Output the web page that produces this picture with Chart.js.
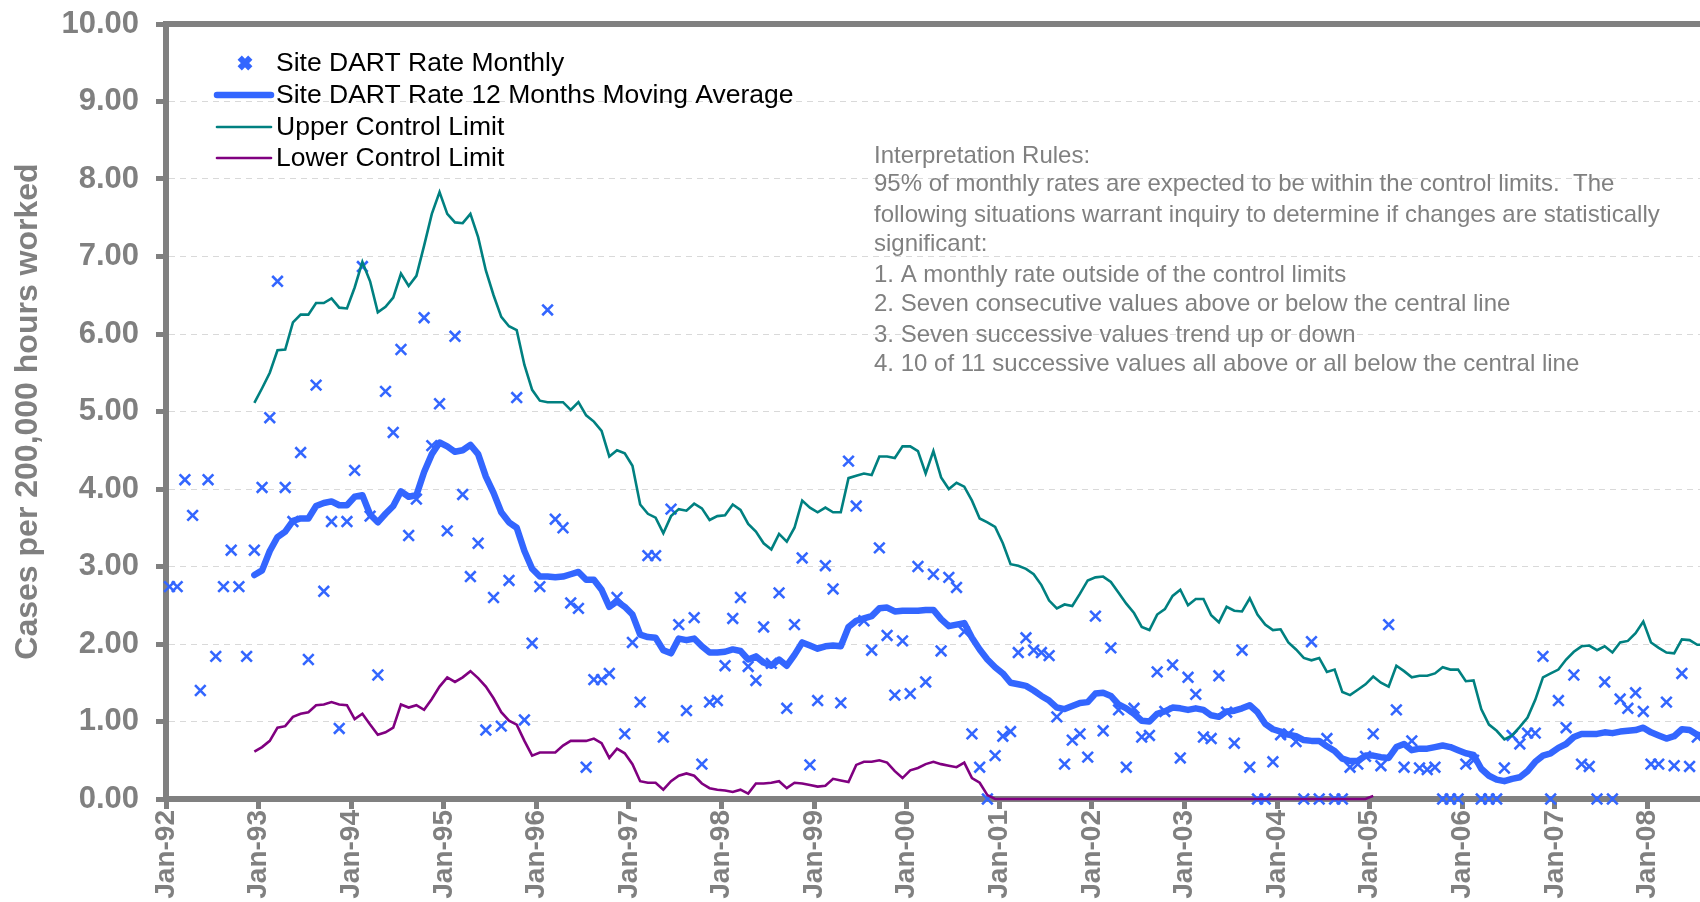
<!DOCTYPE html>
<html>
<head>
<meta charset="utf-8">
<script src="https://cdn.jsdelivr.net/npm/chart.js@4.4.0/dist/chart.umd.min.js"></script>
<style>
  html, body { margin: 0; padding: 0; background: #ffffff; overflow: hidden; }
  #wrap { width: 1700px; height: 902px; position: relative; }
</style>
</head>
<body>
<div id="wrap"><canvas id="chart" width="1700" height="902"></canvas></div>
<script>
// ---------------- DATA ----------------
const tickLabels = ['Jan-92','Jan-93','Jan-94','Jan-95','Jan-96','Jan-97','Jan-98','Jan-99',
  'Jan-00','Jan-01','Jan-02','Jan-03','Jan-04','Jan-05','Jan-06','Jan-07','Jan-08'];

// Monthly DART rate, one value per month starting Jan-92
const monthlyRate = [
  2.74, 2.74, 4.12, 3.66, 1.40, 4.12, 1.84, 2.74, 3.21, 2.74, 1.84, 3.21,   // 1992
  4.02, 4.92, 6.68, 4.02, 3.58, 4.47, 1.80, 5.34, 2.68, 3.58, 0.91, 3.58,   // 1993
  4.24, 6.87, 3.65, 1.60, 5.26, 4.73, 5.80, 3.40, 3.87, 6.21, 4.56, 5.10,   // 1994
  3.46, 5.97, 3.93, 2.87, 3.30, 0.89, 2.60, 0.94, 2.82, 5.18, 1.02, 2.01,   // 1995
  2.74, 6.31, 3.61, 3.50, 2.53, 2.46, 0.41, 1.54, 1.54, 1.62, 2.60, 0.84,   // 1996
  2.02, 1.25, 3.14, 3.14, 0.80, 3.74, 2.25, 1.14, 2.34, 0.45, 1.25, 1.27,   // 1997
  1.72, 2.33, 2.60, 1.71, 1.53, 2.22, 1.75, 2.66, 1.17, 2.25, 3.11, 0.44,   // 1998
  1.27, 3.01, 2.71, 1.24, 4.36, 3.78, 2.30, 1.92, 3.24, 2.11, 1.34, 2.04,   // 1999
  1.36, 3.00, 1.51, 2.90, 1.91, 2.86, 2.73, 2.16, 0.84, 0.41, 0.00, 0.56,   // 2000
  0.81, 0.87, 1.89, 2.08, 1.92, 1.89, 1.85, 1.06, 0.45, 0.76, 0.84, 0.54,   // 2001
  2.36, 0.88, 1.95, 1.15, 0.41, 1.17, 0.80, 0.82, 1.64, 1.13, 1.73, 0.53,   // 2002
  1.57, 1.35, 0.80, 0.78, 1.59, 1.12, 0.72, 1.92, 0.41, 0.00, 0.00, 0.48,   // 2003
  0.83, 0.84, 0.74, 0.00, 2.03, 0.00, 0.78, 0.00, 0.00, 0.41, 0.45, 0.55,   // 2004
  0.84, 0.43, 2.25, 1.15, 0.41, 0.75, 0.40, 0.38, 0.41, 0.00, 0.00, 0.00,   // 2005
  0.45, 0.50, 0.00, 0.00, 0.00, 0.40, 0.82, 0.71, 0.85, 0.85, 1.84, 0.00,   // 2006
  1.27, 0.92, 1.60, 0.45, 0.42, 0.00, 1.51, 0.00, 1.29, 1.17, 1.37, 1.13,   // 2007
  0.45, 0.45, 1.25, 0.43, 1.62, 0.42, 0.80                                  // 2008
];

// 12-month moving average and control limits start at Dec-92 (month index 11)
const limitsStartMonth = 11;

const movingAverage = [
  2.89,
  2.95, 3.20, 3.38, 3.45, 3.59, 3.62, 3.62, 3.78, 3.82, 3.84, 3.79, 3.79,
  3.90, 3.92, 3.67, 3.57, 3.68, 3.78, 3.97, 3.90, 3.92, 4.22, 4.45, 4.60,
  4.55, 4.48, 4.50, 4.57, 4.45, 4.16, 3.95, 3.70, 3.57, 3.50, 3.20, 2.97,
  2.87, 2.87, 2.86, 2.87, 2.90, 2.93, 2.83, 2.83, 2.70, 2.48, 2.55, 2.48,
  2.38, 2.12, 2.09, 2.08, 1.92, 1.88, 2.07, 2.05, 2.07, 1.97, 1.89, 1.89,
  1.90, 1.93, 1.91, 1.80, 1.84, 1.76, 1.72, 1.80, 1.72, 1.86, 2.02, 1.98,
  1.94, 1.97, 1.98, 1.97, 2.22, 2.30, 2.33, 2.36, 2.46, 2.47, 2.42, 2.43,
  2.43, 2.43, 2.44, 2.44, 2.32, 2.23, 2.25, 2.27, 2.08, 1.93, 1.80, 1.70,
  1.62, 1.50, 1.48, 1.46, 1.40, 1.33, 1.27, 1.18, 1.16, 1.20, 1.24, 1.25,
  1.36, 1.37, 1.33, 1.22, 1.17, 1.10, 1.01, 1.00, 1.10, 1.13, 1.18, 1.17,
  1.15, 1.17, 1.15, 1.08, 1.06, 1.13, 1.14, 1.17, 1.21, 1.12, 0.97, 0.90,
  0.87, 0.83, 0.81, 0.76, 0.75, 0.75, 0.68, 0.62, 0.52, 0.49, 0.49, 0.56,
  0.56, 0.54, 0.53, 0.67, 0.71, 0.63, 0.65, 0.65, 0.67, 0.69, 0.67, 0.63,
  0.59, 0.57, 0.39, 0.30, 0.25, 0.23, 0.26, 0.28, 0.36, 0.48, 0.56, 0.59,
  0.66, 0.71, 0.80, 0.84, 0.84, 0.84, 0.86, 0.85, 0.87, 0.88, 0.89, 0.92,
  0.86, 0.82, 0.78, 0.81, 0.90, 0.89, 0.83, 0.80
];

const upperLimit = [
  5.11,
  5.30, 5.50, 5.79, 5.80, 6.15, 6.25, 6.25, 6.40, 6.40, 6.46, 6.34, 6.33,
  6.60, 6.93, 6.68, 6.28, 6.35, 6.47, 6.78, 6.62, 6.75, 7.14, 7.55, 7.83,
  7.55, 7.44, 7.43, 7.55, 7.25, 6.82, 6.50, 6.22, 6.10, 6.05, 5.60, 5.28,
  5.14, 5.12, 5.12, 5.12, 5.02, 5.12, 4.95, 4.87, 4.75, 4.42, 4.50, 4.46,
  4.30, 3.80, 3.68, 3.63, 3.43, 3.65, 3.74, 3.72, 3.81, 3.75, 3.60, 3.65,
  3.66, 3.80, 3.73, 3.55, 3.45, 3.30, 3.22, 3.42, 3.32, 3.50, 3.85, 3.76,
  3.70, 3.76, 3.70, 3.70, 4.14, 4.17, 4.20, 4.18, 4.42, 4.42, 4.40, 4.55,
  4.55, 4.49, 4.20, 4.49, 4.15, 4.00, 4.08, 4.03, 3.85, 3.62, 3.57, 3.51,
  3.30, 3.03, 3.01, 2.97, 2.90, 2.76, 2.56, 2.46, 2.51, 2.49, 2.65, 2.82,
  2.86, 2.87, 2.80, 2.66, 2.52, 2.40, 2.22, 2.18, 2.38, 2.45, 2.62, 2.70,
  2.50, 2.58, 2.58, 2.37, 2.28, 2.48, 2.43, 2.42, 2.59, 2.38, 2.25, 2.18,
  2.19, 2.02, 1.93, 1.82, 1.79, 1.82, 1.64, 1.67, 1.38, 1.34, 1.41, 1.48,
  1.58, 1.50, 1.45, 1.72, 1.65, 1.57, 1.59, 1.59, 1.62, 1.70, 1.67, 1.67,
  1.52, 1.53, 1.16, 0.96, 0.88, 0.77, 0.82, 0.93, 1.05, 1.28, 1.57, 1.62,
  1.67, 1.80, 1.90, 1.97, 1.98, 1.92, 1.97, 1.89, 2.02, 2.04, 2.14, 2.29,
  2.02, 1.95, 1.89, 1.88, 2.06, 2.05, 1.99, 1.99
];

const lowerLimit = [
  0.61,
  0.67, 0.75, 0.92, 0.94, 1.06, 1.10, 1.12, 1.21, 1.22, 1.25, 1.22, 1.21,
  1.03, 1.10, 0.96, 0.83, 0.86, 0.92, 1.22, 1.18, 1.21, 1.15, 1.29, 1.45,
  1.57, 1.51, 1.57, 1.65, 1.56, 1.45, 1.30, 1.12, 1.01, 0.96, 0.75, 0.56,
  0.60, 0.60, 0.60, 0.69, 0.75, 0.75, 0.75, 0.78, 0.72, 0.53, 0.65, 0.59,
  0.45, 0.23, 0.21, 0.21, 0.12, 0.23, 0.30, 0.33, 0.30, 0.20, 0.14, 0.12,
  0.11, 0.09, 0.12, 0.07, 0.20, 0.20, 0.21, 0.23, 0.14, 0.21, 0.20, 0.18,
  0.16, 0.17, 0.26, 0.24, 0.22, 0.44, 0.48, 0.48, 0.50, 0.47, 0.36, 0.27,
  0.37, 0.40, 0.45, 0.48, 0.45, 0.43, 0.41, 0.47, 0.27, 0.21, 0.05, 0.00,
  0, 0, 0, 0, 0, 0, 0, 0, 0, 0, 0, 0,
  0, 0, 0, 0, 0, 0, 0, 0, 0, 0, 0, 0,
  0, 0, 0, 0, 0, 0, 0, 0, 0, 0, 0, 0,
  0, 0, 0, 0, 0, 0, 0, 0, 0, 0, 0, 0,
  0.04
];

const seriesLabels = [
  'Site DART Rate Monthly',
  'Site DART Rate 12 Months Moving Average',
  'Upper Control Limit',
  'Lower Control Limit'
];

const interpretationLines = [
  'Interpretation Rules:',
  '95% of monthly rates are expected to be within the control limits.  The',
  'following situations warrant inquiry to determine if changes are statistically',
  'significant:',
  '1. A monthly rate outside of the control limits',
  '2. Seven consecutive values above or below the central line',
  '3. Seven successive values trend up or down',
  '4. 10 of 11 successive values all above or all below the central line'
];

const yAxisTitle = 'Cases per 200,000 hours worked';

// ---------------- STYLE ----------------
const FONT = "'Liberation Sans', Arial, Helvetica, sans-serif";
const GREY = '#808080';
const BLUE = '#3366ff';
const TEAL = '#008080';
const PURPLE = '#800080';
const MID_MONTH = 0.45;          // observations are dated mid-month
const X_MAX = 198.8;              // visible range in months since Jan-92

function toPoints(values, start) {
  return values.map((v, k) => ({ x: start + k + MID_MONTH, y: v }));
}

const overlayPlugin = {
  id: 'overlay',
  afterDraw(chart) {
    const { ctx, chartArea } = chart;
    ctx.save();
    // top frame line of the plot area
    ctx.strokeStyle = GREY;
    ctx.lineWidth = 6;
    ctx.beginPath();
    ctx.moveTo(chartArea.left - 3, chartArea.top);
    ctx.lineTo(chartArea.right, chartArea.top);
    ctx.stroke();

    // legend (inside plot area, top-left)
    const ds = chart.data.datasets;
    const rowsY = [63, 95, 127, 158];
    const lineX0 = 217, lineX1 = 271, textX = 276;
    ctx.font = '26.5px ' + FONT;
    ctx.textBaseline = 'middle';
    ctx.textAlign = 'left';
    ds.forEach((d, k) => {
      const y = rowsY[k];
      if (d.showLine === false) {
        ctx.strokeStyle = d.borderColor;
        Chart.helpers.drawPoint(ctx, { pointStyle: d.pointStyle, radius: d.pointRadius, borderWidth: d.borderWidth, rotation: 0 }, 245, y);
      } else {
        ctx.strokeStyle = d.borderColor;
        ctx.lineWidth = d.borderWidth;
        ctx.lineCap = 'round';
        ctx.beginPath();
        ctx.moveTo(lineX0, y);
        ctx.lineTo(lineX1, y);
        ctx.stroke();
      }
      ctx.fillStyle = '#000000';
      ctx.fillText(d.label, textX, y + 1);
    });

    // interpretation rules text
    const textY = [156, 184, 215, 244, 275, 304, 335, 364];
    ctx.font = '24px ' + FONT;
    ctx.fillStyle = GREY;
    interpretationLines.forEach((t, k) => ctx.fillText(t, 874, textY[k]));
    ctx.restore();
  }
};

new Chart(document.getElementById('chart'), {
  type: 'line',
  data: {
    datasets: [
      {
        label: seriesLabels[0],
        data: toPoints(monthlyRate, 0),
        showLine: false,
        pointStyle: 'crossRot',
        pointRadius: 7.5,
        pointHoverRadius: 7.5,
        borderWidth: 2.6,
        borderColor: BLUE,
        backgroundColor: BLUE,
        clip: false,
        order: 3
      },
      {
        label: seriesLabels[1],
        data: toPoints(movingAverage, limitsStartMonth),
        borderColor: BLUE,
        borderWidth: 6.5,
        pointRadius: 0,
        tension: 0,
        borderJoinStyle: 'round',
        borderCapStyle: 'round',
        clip: false,
        order: 0
      },
      {
        label: seriesLabels[2],
        data: toPoints(upperLimit, limitsStartMonth),
        borderColor: TEAL,
        borderWidth: 2.6,
        pointRadius: 0,
        tension: 0,
        clip: false,
        order: 1
      },
      {
        label: seriesLabels[3],
        data: toPoints(lowerLimit, limitsStartMonth),
        borderColor: PURPLE,
        borderWidth: 2.6,
        pointRadius: 0,
        tension: 0,
        clip: false,
        order: 2
      }
    ]
  },
  options: {
    responsive: false,
    animation: false,
    devicePixelRatio: 1,
    events: [],
    layout: { autoPadding: false, padding: { top: 24, left: 0, right: 0, bottom: 0 } },
    plugins: { legend: { display: false }, tooltip: { enabled: false } },
    scales: {
      x: {
        type: 'linear',
        min: 0,
        max: X_MAX,
        afterBuildTicks: (s) => { s.ticks = tickLabels.map((_, k) => ({ value: k * 12 })); },
        afterFit: (s) => { s.height = 103; s.paddingLeft = 0; s.paddingRight = 0; },
        grid: { drawOnChartArea: false, drawTicks: true, tickLength: 10, tickWidth: 5, tickColor: GREY, color: GREY },
        border: { display: true, color: GREY, width: 6 },
        ticks: {
          autoSkip: false, maxRotation: 90, minRotation: 90, padding: 1,
          color: GREY, font: { family: FONT, size: 28, weight: 'bold' },
          callback: (v) => tickLabels[Math.round(v / 12)]
        }
      },
      y: {
        min: 0,
        max: 10,
        afterFit: (s) => { s.width = 166; s.paddingTop = 0; s.paddingBottom = 0; },
        grid: { color: '#d9d9d9', lineWidth: 1, tickColor: GREY, tickWidth: 5, tickLength: 10, tickBorderDash: [] },
        border: { display: true, color: GREY, width: 6, dash: [6, 5] },
        ticks: {
          stepSize: 1, padding: 17, color: GREY,
          font: { family: FONT, size: 31, weight: 'bold' },
          callback: (v) => Number(v).toFixed(2)
        },
        title: {
          display: true, text: yAxisTitle, color: GREY,
          font: { family: FONT, size: 32, weight: 'bold' },
          padding: { top: 9, bottom: 0 }
        }
      }
    }
  },
  plugins: [overlayPlugin]
});
</script>
</body>
</html>
